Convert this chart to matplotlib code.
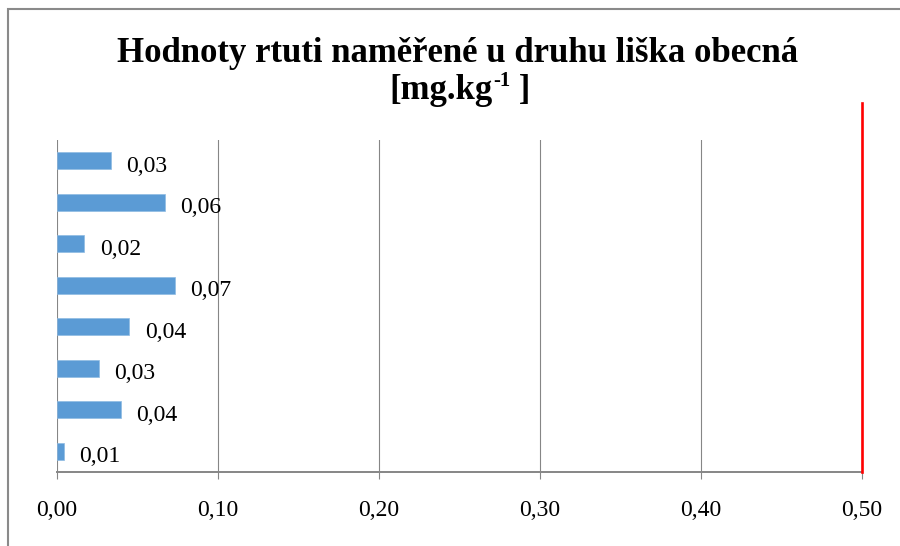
import matplotlib
matplotlib.use("Agg")
import matplotlib.pyplot as plt
import numpy as np
from matplotlib.patches import Rectangle

plt.rcParams['font.family'] = ['Liberation Serif', 'DejaVu Serif']

# bars listed top to bottom as they appear
values = [0.0335, 0.067, 0.017, 0.073, 0.045, 0.026, 0.0395, 0.0045]
value_labels = ["0,03", "0,06", "0,02", "0,07", "0,04", "0,03", "0,04", "0,01"]
xticks = [0.0, 0.1, 0.2, 0.3, 0.4, 0.5]
limit = 0.5

grid_col = "#868686"
bar_col = "#5B9BD5"

fig = plt.figure(figsize=(9, 5.46), dpi=100)
ax = fig.add_axes([57/900, 1-472/546, (862-57)/900, (472-140)/546])

y = np.arange(len(values))
ax.barh(y, values, height=0.4, color=bar_col, edgecolor="#8fbbe3", linewidth=0.5, zorder=3)
ax.set_ylim(len(values)-0.5, -0.5)
ax.set_xlim(0, 0.5)

for yi, v, lab in zip(y, values, value_labels):
    ax.annotate(lab, (v, yi), xytext=(11, -4), textcoords="offset points",
                ha="left", va="center", fontsize=17, zorder=4)

ax.set_xticks(xticks)
ax.set_xticklabels([f"{t:.2f}".replace(".", ",") for t in xticks], fontsize=17)
ax.set_yticks([])
ax.grid(axis="x", color=grid_col, linewidth=0.8, zorder=0)
ax.tick_params(axis="x", direction="out", length=5, width=0.8, color=grid_col, pad=15)
for s in ["top", "right", "left"]:
    ax.spines[s].set_visible(False)
ax.spines["bottom"].set_color(grid_col)
ax.spines["bottom"].set_linewidth(1.4)
ax.spines["bottom"].set_zorder(5)

# limit line reaching above the plot area
ax.axvline(limit, ymin=0, ymax=(472-103)/(472-140), color="#FF0000", linewidth=1.9,
           clip_on=False, zorder=6)

fig.text(0.508, 1-62/546, "Hodnoty rtuti naměřené u druhu liška obecná",
         ha="center", va="baseline", fontsize=25, fontweight="bold")

# second title line with a raised "-1"
r = fig.canvas.get_renderer()
base = 1-99/546
parts = [("[mg.kg", 25, 0), ("-1", 15, 13), (" ]", 25, 0)]
texts = []
x = 0
for s, fs, dy in parts:
    t = fig.text(0, base + dy/546, s, ha="left", va="baseline", fontsize=fs, fontweight="bold")
    texts.append(t)
widths = [t.get_window_extent(r).width for t in texts]
x = 460 - sum(widths)/2
for t, w in zip(texts, widths):
    t.set_x(x/900)
    x += w

fig.patches.append(Rectangle((8/900, -0.2), 1.2, 1.2 - 9/546, transform=fig.transFigure,
                             fill=False, edgecolor="#8a8a8a", linewidth=1.5))

fig.savefig("out.png", dpi=100)
